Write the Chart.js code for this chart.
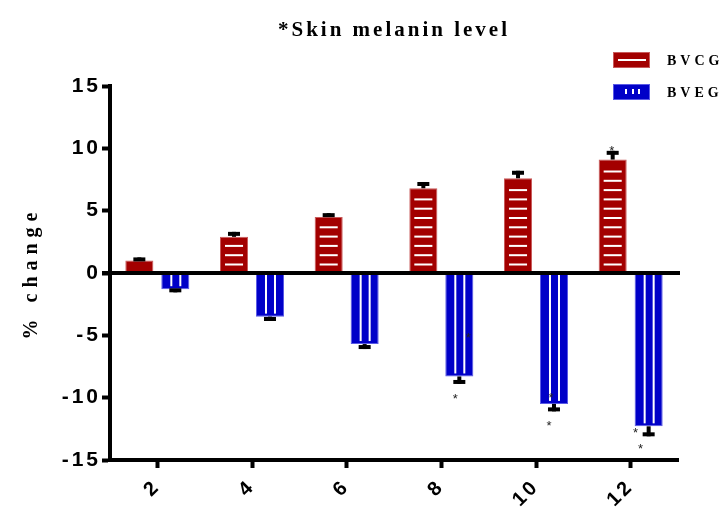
<!DOCTYPE html>
<html>
<head>
<meta charset="utf-8">
<script src="https://cdn.jsdelivr.net/npm/chart.js@4.4.0/dist/chart.umd.min.js"></script>
<style>
  body { margin: 0; background: #fff; }
  canvas { display: block; }
</style>
</head>
<body>
<canvas id="myChart" width="721" height="511"></canvas>
<script>
// weeks
const weeks = ["2", "4", "6", "8", "10", "12"];
const bvcg = [1.0, 2.9, 4.5, 6.8, 7.6, 9.1];
const bvcgErr = [0.25, 0.4, 0.3, 0.5, 0.6, 0.7];
const bveg = [-1.3, -3.5, -5.7, -8.3, -10.5, -12.3];
const bvegErr = [0.25, 0.35, 0.4, 0.6, 0.6, 0.8];
const yTicks = [-15, -10, -5, 0, 5, 10, 15];
// significance stars: dataset, category, value, shift from bar centre (px)
const stars = [
  { ds: 0, i: 5, v: 10.0, dx: -1 },
  { ds: 1, i: 3, v: -5.0, dx: 9 },
  { ds: 1, i: 3, v: -9.9, dx: -4 },
  { ds: 1, i: 4, v: -9.8, dx: -3 },
  { ds: 1, i: 4, v: -12.1, dx: -5 },
  { ds: 1, i: 5, v: -12.6, dx: -13 },
  { ds: 1, i: 5, v: -13.95, dx: -8 },
];

const red = "#a30000";
const blue = "#0000c8";

function spaced(obj, method, px, shift) {
  if (!obj || obj["_sp_" + method]) return;
  const orig = obj[method].bind(obj);
  obj[method] = function (...args) {
    const c = obj.ctx;
    c.save();
    c.letterSpacing = px;
    if (shift) c.translate(shift(), 0);
    orig(...args);
    c.restore();
  };
  obj["_sp_" + method] = true;
}

const spacingPlugin = {
  id: "spacing",
  beforeDraw(chart) {
    const tb = chart.titleBlock;
    // title centred over the plot area, not the whole canvas
    spaced(tb, "draw", "3px", () => (chart.chartArea.left + chart.chartArea.right) / 2 - (tb.left + tb.right) / 2);
    spaced(chart.scales.y, "drawLabels", "3px");
    spaced(chart.scales.y, "drawTitle", "6px");
    spaced(chart.scales.x, "drawLabels", "3px");
  },
};

// stripes, error bars, zero line, stars
const marksPlugin = {
  id: "marks",
  afterDatasetsDraw(chart) {
    const ctx = chart.ctx;
    const ys = chart.scales.y;
    const area = chart.chartArea;
    ctx.save();
    chart.data.datasets.forEach((ds, d) => {
      const meta = chart.getDatasetMeta(d);
      meta.data.forEach((el, i) => {
        const left = el.x - el.width / 2;
        ctx.fillStyle = "#fff";
        if (ds.stripe === "h") {
          for (let y = el.base - 8; y > el.y + 5; y -= 9.3) {
            ctx.fillRect(left + 5, y - 1, el.width - 10, 2);
          }
        } else {
          const bottom = el.y - 3;
          ctx.fillRect(el.x - 5, el.base, 2, bottom - el.base);
          ctx.fillRect(el.x + 4, el.base, 2, bottom - el.base);
        }
        // error bar
        const v = ds.data[i];
        const sign = v >= 0 ? 1 : -1;
        const end = ys.getPixelForValue(v + sign * ds.err[i]);
        ctx.fillStyle = "#000";
        if (sign > 0) {
          ctx.fillRect(el.x - 2, end, 4, el.y - end);
          ctx.fillRect(el.x - 6, end, 12, 4);
        } else {
          ctx.fillRect(el.x - 2, el.y, 4, end - el.y);
          ctx.fillRect(el.x - 6, end - 4, 12, 4);
        }
      });
    });
    // zero line on top of bars
    const y0 = ys.getPixelForValue(0);
    ctx.fillStyle = "#000";
    ctx.fillRect(area.left - 8, y0 - 2, area.right - area.left + 10, 4);
    // stars
    ctx.font = "13px 'Liberation Sans'";
    ctx.fillStyle = "#222";
    ctx.textAlign = "center";
    ctx.textBaseline = "middle";
    stars.forEach((s) => {
      const el = chart.getDatasetMeta(s.ds).data[s.i];
      ctx.fillText("*", el.x + s.dx, ys.getPixelForValue(s.v) + 3);
    });
    ctx.restore();
  },
  afterDraw(chart) {
    const ctx = chart.ctx;
    ctx.save();
    chart.data.datasets.forEach((ds, d) => {
      const bx = 613, by = 52 + d * 32;
      ctx.fillStyle = ds.borderColor;
      ctx.fillRect(bx, by, 37, 16);
      ctx.fillStyle = ds.backgroundColor;
      ctx.fillRect(bx + 1, by + 1, 35, 14);
      ctx.fillStyle = "#fff";
      if (ds.stripe === "h") {
        ctx.fillRect(bx + 5, by + 7, 28, 2);
      } else {
        [12, 19, 25].forEach((o) => ctx.fillRect(bx + o, by + 5, 2, 5));
      }
      ctx.fillStyle = "#000";
      ctx.font = "bold 14px 'Liberation Serif'";
      ctx.letterSpacing = "4px";
      ctx.textBaseline = "middle";
      ctx.fillText(ds.label, 667, by + 9);
    });
    ctx.restore();
  },
};

const ctx = document.getElementById("myChart").getContext("2d");
new Chart(ctx, {
  type: "bar",
  data: {
    labels: weeks,
    datasets: [
      { label: "BVCG", data: bvcg, err: bvcgErr, stripe: "h", backgroundColor: red, borderColor: "#c85a5a", borderWidth: 1 },
      { label: "BVEG", data: bveg, err: bvegErr, stripe: "v", backgroundColor: blue, borderColor: "#5a5ae6", borderWidth: 1 },
    ],
  },
  options: {
    responsive: false,
    animation: false,
    layout: { padding: { left: 0, right: 43, top: 0, bottom: 0 } },
    datasets: { bar: { categoryPercentage: 0.76, barPercentage: 0.78 } },
    plugins: {
      legend: { display: false },
      tooltip: { enabled: false },
      title: {
        display: true,
        text: "*Skin melanin level",
        color: "#000",
        font: { family: "Liberation Serif", size: 21, weight: "bold" },
        padding: { top: 18, bottom: 42.8 },
      },
    },
    scales: {
      x: {
        grid: { display: true, drawOnChartArea: false, offset: false, tickLength: 8, tickWidth: 4, tickColor: "#000" },
        border: { display: true, color: "#000", width: 4 },
        ticks: {
          color: "#000",
          font: { family: "Liberation Sans", size: 20, weight: "bold" },
          minRotation: 45,
          maxRotation: 45,
          autoSkip: false,
          padding: 7,
        },
        afterFit(s) { s.height = 51; },
      },
      y: {
        min: -15,
        max: 15,
        afterBuildTicks(s) { s.ticks = yTicks.map((v) => ({ value: v })); },
        grid: { color: "rgba(0,0,0,0)", tickLength: 8, tickWidth: 4, tickColor: "#000" },
        border: { color: "#000", width: 4 },
        ticks: { color: "#000", font: { family: "Liberation Sans", size: 21, weight: "bold" }, padding: 1 },
        title: {
          display: true,
          text: "% change",
          color: "#000",
          font: { family: "Liberation Serif", size: 20, weight: "bold" },
          padding: { top: 20 },
        },
        afterFit(s) { s.width = 110; },
      },
    },
  },
  plugins: [spacingPlugin, marksPlugin],
});
</script>
</body>
</html>
